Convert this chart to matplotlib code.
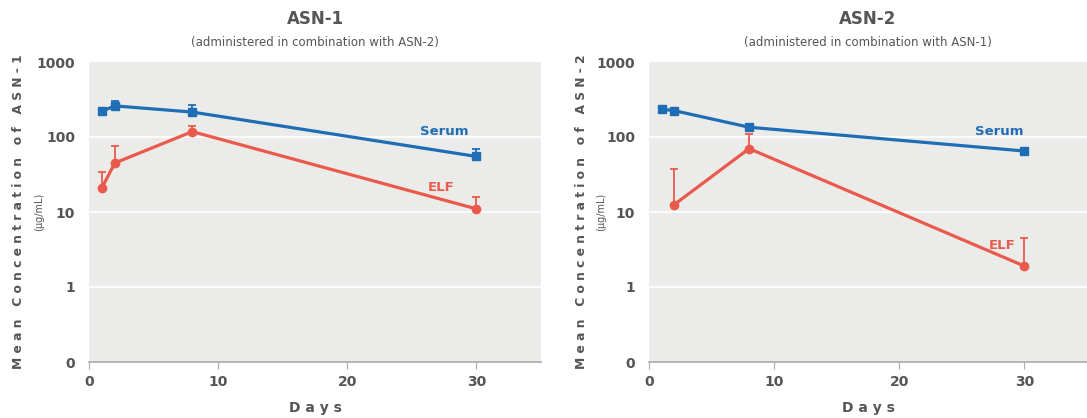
import matplotlib
matplotlib.use("Agg")
import matplotlib.pyplot as plt
import numpy as np

# ASN-1 panel
days_1 = [1, 2, 8, 30]
serum_1 = [220, 260, 215, 55]
serum_1_hi = [220, 300, 270, 70]
elf_1 = [21, 45, 118, 11]
elf_1_hi = [34, 75, 140, 16]

# ASN-2 panel
days_2_serum = [1, 2, 8, 30]
serum_2 = [235, 225, 135, 65]
serum_2_hi = [235, 225, 135, 65]
days_2_elf = [2, 8, 30]
elf_2 = [12.5, 70, 1.9]
elf_2_hi = [37, 110, 4.5]

y_ticks = [0.1, 1, 10, 100, 1000]
y_tick_labels = ["0", "1", "10", "100", "1000"]
x_ticks = [0, 10, 20, 30]

BLUE = "#1f6db5"
RED = "#ea5a4c"
GREY = "#555555"
BG = "#ebebe9"

fig = plt.figure(figsize=(10.87, 4.18), dpi=100)


def spaced(s):
    return " ".join(s)


def panel(rect, title, subtitle, ylabel, series, serum_pos, elf_pos):
    ax = fig.add_axes(rect)
    ax.set_facecolor(BG)
    ax.set_yscale("log")
    ax.set_ylim(0.1, 1000)
    ax.set_xlim(0, 35)
    for y in [1, 10, 100]:
        ax.axhline(y, color="white", lw=1.2, zorder=1)
    for x, y, hi, color, marker in series:
        y = np.array(y)
        hi = np.array(hi)
        ax.errorbar(x, y, yerr=[np.zeros_like(y), hi - y], fmt="none",
                    ecolor=color, elinewidth=1.3, capsize=3, capthick=1.3, zorder=2)
        ax.plot(x, y, color=color, lw=2.3, marker=marker, ms=6, zorder=3)
    for s in ["top", "right", "left"]:
        ax.spines[s].set_visible(False)
    ax.spines["bottom"].set_color("#aaaaaa")
    ax.spines["bottom"].set_linewidth(1.2)
    ax.set_yticks(y_ticks)
    ax.set_yticklabels(y_tick_labels)
    ax.minorticks_off()
    ax.tick_params(axis="y", length=0, pad=10, labelsize=10, labelcolor=GREY)
    ax.set_xticks(x_ticks)
    ax.tick_params(axis="x", length=5, color="#aaaaaa", labelsize=10, labelcolor=GREY, pad=4)
    for lab in ax.get_xticklabels() + ax.get_yticklabels():
        lab.set_fontweight("bold")
    ax.set_xlabel(spaced("Days"), fontsize=10, fontweight="bold", color=GREY, labelpad=9)
    ax.text(0.5, 1.145, title, transform=ax.transAxes, ha="center", va="center",
            fontsize=12, fontweight="bold", color=GREY)
    ax.text(0.5, 1.065, subtitle, transform=ax.transAxes, ha="center", va="center",
            fontsize=8.5, color=GREY)
    ax.text(-0.155, 0.5, spaced(ylabel), transform=ax.transAxes, ha="center", va="center",
            rotation=90, fontsize=8.8, fontweight="bold", color=GREY)
    ax.text(-0.11, 0.5, "(µg/mL)", transform=ax.transAxes, ha="center", va="center",
            rotation=90, fontsize=7, color=GREY)
    ax.text(serum_pos[0], serum_pos[1], "Serum", ha="center", va="center",
            fontsize=9.5, fontweight="bold", color=BLUE)
    ax.text(elf_pos[0], elf_pos[1], "ELF", ha="center", va="center",
            fontsize=9.5, fontweight="bold", color=RED)
    return ax


panel([89 / 1087, 56 / 418, 452 / 1087, 300 / 418], "ASN-1",
      "(administered in combination with ASN-2)", "Mean Concentration of ASN-1",
      [(days_1, serum_1, serum_1_hi, BLUE, "s"), (days_1, elf_1, elf_1_hi, RED, "o")],
      (27.5, 120), (27.3, 21))

panel([649 / 1087, 56 / 418, 438 / 1087, 300 / 418], "ASN-2",
      "(administered in combination with ASN-1)", "Mean Concentration of ASN-2",
      [(days_2_serum, serum_2, serum_2_hi, BLUE, "s"), (days_2_elf, elf_2, elf_2_hi, RED, "o")],
      (28, 120), (28.2, 3.6))

fig.savefig("out.png", dpi=100)
